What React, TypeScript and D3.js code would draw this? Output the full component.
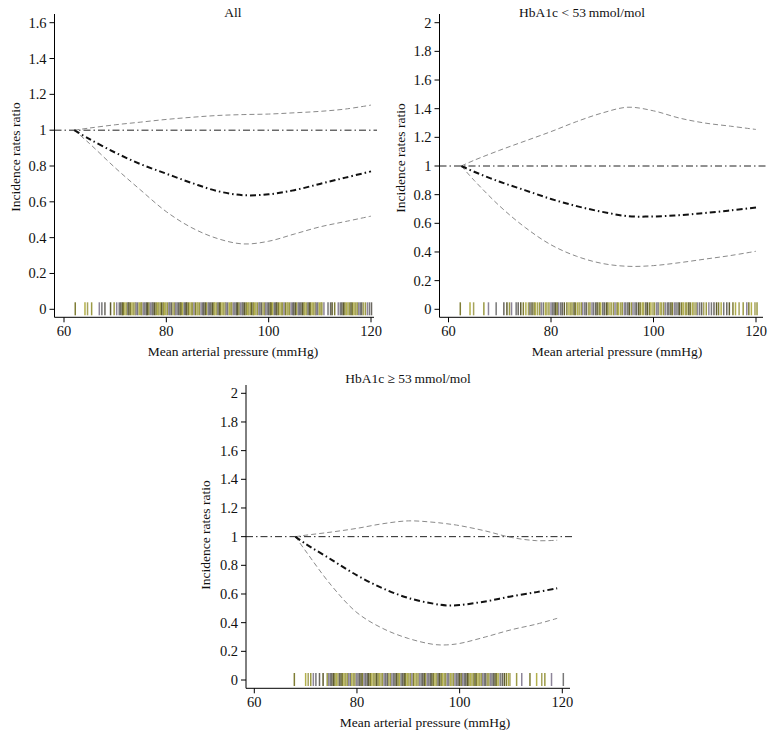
import React from "react";
import * as d3 from "d3";

// ---------- DATA ----------
const xTicks = [60, 80, 100, 120];
const yTicksAll = [0, 0.2, 0.4, 0.6, 0.8, 1, 1.2, 1.4, 1.6];
const yTicksSub = [0, 0.2, 0.4, 0.6, 0.8, 1, 1.2, 1.4, 1.6, 1.8, 2];

const titles = ["All", "HbA1c < 53\u2009mmol/mol", "HbA1c \u2265 53\u2009mmol/mol"];

// Panel "All"
const mapAll = [62, 65, 70, 75, 80, 85, 90, 95, 100, 105, 110, 115, 120];
const estAll = [1.0, 0.95, 0.875, 0.81, 0.757, 0.705, 0.66, 0.637, 0.642, 0.665, 0.7, 0.735, 0.77];
const upAll = [1.0, 1.012, 1.03, 1.045, 1.06, 1.072, 1.082, 1.087, 1.09, 1.097, 1.105, 1.118, 1.14];
const loAll = [1.0, 0.925, 0.79, 0.665, 0.545, 0.455, 0.395, 0.365, 0.38, 0.42, 0.46, 0.49, 0.52];

// Panel HbA1c < 53
const mapLow = [62.5, 65, 70, 75, 80, 85, 90, 95, 100, 105, 110, 115, 120];
const estLow = [1.0, 0.96, 0.89, 0.83, 0.77, 0.72, 0.68, 0.65, 0.648, 0.657, 0.672, 0.69, 0.71];
const upLow = [1.0, 1.04, 1.11, 1.175, 1.24, 1.31, 1.37, 1.41, 1.385, 1.335, 1.3, 1.278, 1.255];
const loLow = [1.0, 0.9, 0.72, 0.57, 0.45, 0.37, 0.32, 0.3, 0.305, 0.325, 0.35, 0.375, 0.405];

// Panel HbA1c >= 53
const mapHigh = [68, 70, 75, 80, 85, 90, 95, 97.5, 100, 105, 110, 115, 119];
const estHigh = [1.0, 0.95, 0.84, 0.73, 0.64, 0.572, 0.532, 0.52, 0.523, 0.548, 0.583, 0.613, 0.64];
const upHigh = [1.0, 1.01, 1.032, 1.058, 1.09, 1.11, 1.1, 1.09, 1.077, 1.04, 0.995, 0.972, 0.975];
const loHigh = [1.0, 0.9, 0.66, 0.47, 0.36, 0.29, 0.248, 0.245, 0.255, 0.3, 0.35, 0.39, 0.43];

// Rug (observed mean arterial pressure values)
const rugAll = [
  62.2, 64.1, 64.6, 65.4, 66.9, 67.4, 68.0, 69.1, 69.8, 70.3, 70.8, 71.1, 71.4, 71.6, 71.9, 72.2,
  72.5, 72.7, 73.0, 73.3, 73.6, 73.9, 74.1, 74.4, 74.7, 75.0, 75.2, 75.5, 75.8, 76.1, 76.3, 76.6,
  76.9, 77.2, 77.4, 77.7, 78.0, 78.3, 78.5, 78.8, 79.1, 79.4, 79.6, 79.9, 80.2, 80.5, 80.7, 81.0,
  81.3, 81.6, 81.8, 82.1, 82.4, 82.7, 82.9, 83.2, 83.5, 83.8, 84.0, 84.3, 84.6, 84.9, 85.1, 85.4,
  85.7, 86.0, 86.2, 86.5, 86.8, 87.1, 87.3, 87.6, 87.9, 88.2, 88.4, 88.7, 89.0, 89.3, 89.5, 89.8,
  90.1, 90.4, 90.6, 90.9, 91.2, 91.5, 91.7, 92.0, 92.3, 92.6, 92.8, 93.1, 93.4, 93.7, 93.9, 94.2,
  94.5, 94.8, 95.0, 95.3, 95.6, 95.9, 96.1, 96.4, 96.7, 97.0, 97.2, 97.5, 97.8, 98.1, 98.3, 98.6,
  98.9, 99.2, 99.4, 99.7, 100.0, 100.3, 100.5, 100.8, 101.1, 101.4, 101.6, 101.9, 102.2, 102.5,
  102.7, 103.0, 103.3, 103.6, 103.8, 104.1, 104.4, 104.7, 104.9, 105.2, 105.5, 105.8, 106.0,
  106.3, 106.6, 106.9, 107.1, 107.4, 107.7, 108.0, 108.2, 108.5, 108.8, 109.1, 109.3, 109.6,
  109.9, 110.2, 110.4, 110.8, 111.6, 112.1, 112.4, 112.9, 113.6, 114.0, 114.3, 114.6, 114.9,
  115.2, 115.5, 115.8, 116.1, 116.4, 116.7, 117.0, 117.3, 117.6, 117.9, 118.2, 118.5, 118.9,
  119.3, 119.7, 120.1,
];
const rugLow = [
  62.3, 64.2, 64.9, 66.9, 67.8, 69.3, 70.8, 71.4, 71.9, 72.3, 73.2, 73.6, 74.1, 74.6, 75.1, 75.6,
  75.9, 76.3, 76.7, 77.0, 77.4, 77.8, 78.1, 78.5, 78.9, 79.2, 79.6, 80.0, 80.3, 80.6, 80.9, 81.2,
  81.5, 81.9, 82.2, 82.6, 83.1, 83.5, 83.8, 84.1, 84.5, 84.8, 85.2, 85.5, 85.9, 86.2, 86.6, 86.9,
  87.3, 87.6, 88.0, 88.3, 88.7, 89.0, 89.4, 89.7, 90.1, 90.4, 90.8, 91.1, 91.5, 91.8, 92.2, 92.5,
  92.9, 93.2, 93.6, 93.9, 94.3, 94.6, 95.0, 95.3, 95.7, 96.0, 96.4, 96.7, 97.1, 97.4, 97.8, 98.1,
  98.5, 98.8, 99.2, 99.5, 99.9, 100.2, 100.6, 100.9, 101.3, 101.6, 102.0, 102.3, 102.7, 103.0,
  103.4, 103.7, 104.1, 104.4, 104.8, 105.1, 105.5, 105.8, 106.2, 106.5, 106.9, 107.2, 107.6,
  107.9, 108.3, 108.6, 109.0, 109.4, 109.8, 110.3, 110.8, 111.3, 111.8, 112.3, 112.7, 113.2,
  113.7, 114.3, 114.8, 115.5, 116.0, 116.7, 117.5, 118.2, 118.6, 119.1, 119.8, 120.2,
];
const rugHigh = [
  67.8, 70.0, 70.5, 71.0, 71.5, 72.0, 72.7, 73.4, 74.2, 74.5, 74.8, 75.1, 75.4, 75.7, 76.0, 76.3,
  76.6, 76.9, 77.2, 77.5, 77.8, 78.1, 78.4, 78.7, 79.0, 79.3, 79.6, 79.9, 80.2, 80.5, 80.8, 81.1,
  81.4, 81.7, 82.0, 82.3, 82.6, 82.9, 83.2, 83.5, 83.8, 84.1, 84.4, 84.7, 85.0, 85.3, 85.6, 85.9,
  86.2, 86.5, 86.8, 87.1, 87.4, 87.7, 88.0, 88.3, 88.6, 88.9, 89.2, 89.5, 89.8, 90.1, 90.4, 90.7,
  91.0, 91.3, 91.6, 91.9, 92.2, 92.5, 92.8, 93.1, 93.4, 93.7, 94.0, 94.3, 94.6, 94.9, 95.2, 95.5,
  95.8, 96.1, 96.4, 96.7, 97.0, 97.3, 97.6, 97.9, 98.2, 98.5, 98.8, 99.1, 99.4, 99.7, 100.0,
  100.3, 100.6, 100.9, 101.2, 101.5, 101.8, 102.1, 102.4, 102.7, 103.0, 103.3, 103.6, 103.9,
  104.2, 104.5, 104.8, 105.1, 105.4, 105.7, 106.0, 106.3, 106.6, 106.9, 107.2, 107.5, 107.9,
  108.3, 108.7, 109.1, 109.5, 109.8, 111.1, 112.1, 113.7, 115.0, 116.0, 116.6, 117.9, 120.2,
];

// ---------- STYLE ----------
const rugPalette = ["#7f7d35", "#9b9a45", "#6b6860", "#b3b04c", "#8d8599", "#5e5c30", "#a6a35c", "#787878"];
const FONT = "'Liberation Serif', 'DejaVu Serif', serif";
const TICK_FS = 14.5;
const LABEL_FS = 13.5;

type PanelCfg = {
  title: string;
  xRange: [number, number];
  yRange: [number, number];
  yDomainMax: number;
  yTicks: number[];
  axisX: number;
  axisYBottom: number;
  axisTop: number;
  axisRight: number;
  titleX: number;
  titleY: number;
  xLabelX: number;
  xLabelY: number;
  yLabelX: number;
  yLabelY: number;
  map: number[];
  est: number[];
  up: number[];
  lo: number[];
  rug: number[];
};

const panels: PanelCfg[] = [
  {
    title: titles[0], xRange: [64, 371], yRange: [309.3, 22.7], yDomainMax: 1.6, yTicks: yTicksAll,
    axisX: 54.5, axisYBottom: 317.3, axisTop: 14, axisRight: 374,
    titleX: 233, titleY: 17, xLabelX: 233, xLabelY: 356, yLabelX: 15, yLabelY: 157,
    map: mapAll, est: estAll, up: upAll, lo: loAll, rug: rugAll,
  },
  {
    title: titles[1], xRange: [448.5, 756], yRange: [309.3, 22.7], yDomainMax: 2, yTicks: yTicksSub,
    axisX: 439.5, axisYBottom: 317.3, axisTop: 14, axisRight: 763,
    titleX: 582, titleY: 17, xLabelX: 617, xLabelY: 356, yLabelX: 400, yLabelY: 158,
    map: mapLow, est: estLow, up: upLow, lo: loLow, rug: rugLow,
  },
  {
    title: titles[2], xRange: [254.3, 562.3], yRange: [680, 393.3], yDomainMax: 2, yTicks: yTicksSub,
    axisX: 246, axisYBottom: 688.3, axisTop: 385, axisRight: 570,
    titleX: 408, titleY: 382.5, xLabelX: 425, xLabelY: 727, yLabelX: 205, yLabelY: 535,
    map: mapHigh, est: estHigh, up: upHigh, lo: loHigh, rug: rugHigh,
  },
];

function Panel({ p }: { p: PanelCfg }) {
  const x = d3.scaleLinear().domain([60, 120]).range(p.xRange);
  const y = d3.scaleLinear().domain([0, p.yDomainMax]).range(p.yRange);
  const line = d3
    .line<number>()
    .x((_, i) => x(p.map[i]))
    .y((d) => y(d))
    .curve(d3.curveCatmullRom.alpha(0.5));
  const y0 = y(0);
  const y1 = y(1);
  return (
    <g>
      {/* rug */}
      {p.rug.map((v, i) => (
        <line
          key={"r" + i}
          x1={x(v)}
          x2={x(v)}
          y1={y0 - 7}
          y2={y0 + 6}
          stroke={rugPalette[(i * 3 + Math.floor(i / 8)) % rugPalette.length]}
          strokeWidth={1.5}
        />
      ))}
      {/* reference line */}
      <line
        x1={p.axisX}
        x2={p.axisRight + 3}
        y1={y1}
        y2={y1}
        stroke="#222"
        strokeWidth={1}
        strokeDasharray="7 3 1.5 3"
      />
      {/* CI */}
      <path d={line(p.up) || ""} fill="none" stroke="#8a8a8a" strokeWidth={1} strokeDasharray="5 3" />
      <path d={line(p.lo) || ""} fill="none" stroke="#8a8a8a" strokeWidth={1} strokeDasharray="5 3" />
      {/* estimate */}
      <path d={line(p.est) || ""} fill="none" stroke="#111" strokeWidth={2} strokeDasharray="6 3 1.5 3" />
      {/* axes */}
      <line x1={p.axisX} x2={p.axisX} y1={p.axisTop} y2={p.axisYBottom} stroke="#000" strokeWidth={1} />
      <line x1={p.axisX} x2={p.axisRight} y1={p.axisYBottom} y2={p.axisYBottom} stroke="#000" strokeWidth={1} />
      {p.yTicks.map((t) => (
        <g key={"y" + t}>
          <line x1={p.axisX - 5} x2={p.axisX} y1={y(t)} y2={y(t)} stroke="#000" strokeWidth={1} />
          <text
            x={p.axisX - 8}
            y={y(t)}
            textAnchor="end"
            dominantBaseline="central"
            fontFamily={FONT}
            fontSize={TICK_FS}
            fill="#111"
          >
            {t === 0 ? "0" : t === 1 ? "1" : t === 2 ? "2" : d3.format(".1f")(t)}
          </text>
        </g>
      ))}
      {xTicks.map((t) => (
        <g key={"x" + t}>
          <line x1={x(t)} x2={x(t)} y1={p.axisYBottom} y2={p.axisYBottom + 5} stroke="#000" strokeWidth={1} />
          <text
            x={x(t)}
            y={p.axisYBottom + 19}
            textAnchor="middle"
            fontFamily={FONT}
            fontSize={TICK_FS}
            fill="#111"
          >
            {t}
          </text>
        </g>
      ))}
      <text x={p.titleX} y={p.titleY} textAnchor="middle" fontFamily={FONT} fontSize={LABEL_FS} fill="#111">
        {p.title}
      </text>
      <text x={p.xLabelX} y={p.xLabelY} textAnchor="middle" fontFamily={FONT} fontSize={LABEL_FS} fill="#111">
        Mean arterial pressure (mmHg)
      </text>
      <text
        transform={`translate(${p.yLabelX},${p.yLabelY}) rotate(-90)`}
        textAnchor="middle"
        dominantBaseline="central"
        fontFamily={FONT}
        fontSize={LABEL_FS}
        fill="#111"
      >
        Incidence rates ratio
      </text>
    </g>
  );
}

export default function App() {
  return (
    <svg
      width={773}
      height={739}
      style={{ position: "absolute", left: 0, top: 0, background: "#fff" }}
    >
      <rect x={0} y={0} width={773} height={739} fill="#fff" />
      {panels.map((p, i) => (
        <Panel key={i} p={p} />
      ))}
    </svg>
  );
}
